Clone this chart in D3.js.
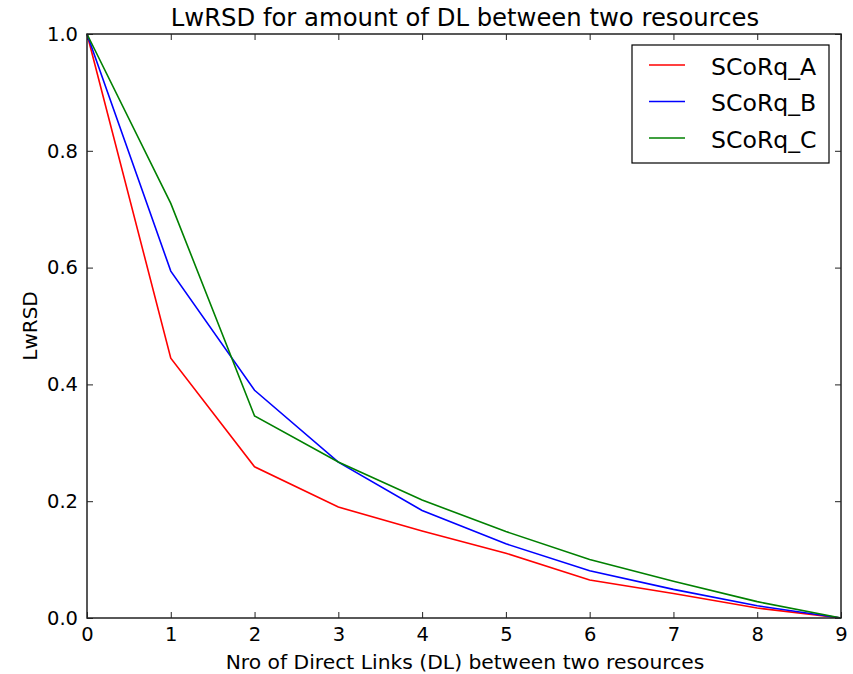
<!DOCTYPE html>
<html><head><meta charset="utf-8">
<script src="https://cdn.jsdelivr.net/npm/d3@7"></script>
<style>
body{margin:0;background:#fff;}
svg{display:block;font-family:"DejaVu Sans",sans-serif;}
</style></head>
<body><svg id="c" width="853" height="674"></svg>
<script>
const xValues = [0,1,2,3,4,5,6,7,8,9];
const seriesNames = ["SCoRq_A","SCoRq_B","SCoRq_C"];
const seriesA = [1.0,0.445,0.259,0.19,0.149,0.111,0.065,0.042,0.017,0.0];
const seriesB = [1.0,0.594,0.39,0.267,0.184,0.127,0.081,0.049,0.021,0.0];
const seriesC = [1.0,0.71,0.346,0.267,0.202,0.148,0.1,0.063,0.028,0.0];
const seriesColors = ["#ff0000","#0000ff","#008000"];
const xTicks = [0,1,2,3,4,5,6,7,8,9];
const yTicks = [0,0.2,0.4,0.6,0.8,1.0];

const svg = d3.select("#c");
const m = {l:87, r:841, t:34, b:618};
const x = d3.scaleLinear().domain([0,9]).range([m.l,m.r]);
const y = d3.scaleLinear().domain([0,1]).range([m.b,m.t]);

svg.append("rect").attr("width",853).attr("height",674).attr("fill","#fff");

const tickLen = 6;
const gx = svg.append("g").attr("transform",`translate(0,${m.b})`)
  .call(d3.axisBottom(x).tickValues(xTicks).tickFormat(d3.format("d")).tickSizeInner(-tickLen).tickSizeOuter(0).tickPadding(9));
const gxt = svg.append("g").attr("transform",`translate(0,${m.t})`)
  .call(d3.axisTop(x).tickValues(xTicks).tickFormat("").tickSizeInner(-tickLen).tickSizeOuter(0));
const gy = svg.append("g").attr("transform",`translate(${m.l},0)`)
  .call(d3.axisLeft(y).tickValues(yTicks).tickFormat(d3.format(".1f")).tickSizeInner(-tickLen).tickSizeOuter(0).tickPadding(9));
const gyr = svg.append("g").attr("transform",`translate(${m.r},0)`)
  .call(d3.axisRight(y).tickValues(yTicks).tickFormat("").tickSizeInner(-tickLen).tickSizeOuter(0));
[gx,gxt,gy,gyr].forEach(g=>{
  g.select(".domain").remove();
  g.selectAll(".tick line").attr("stroke","#222").attr("stroke-width",1);
  g.selectAll(".tick text").attr("font-size",19.5).attr("fill","#000").attr("font-family","DejaVu Sans");
});

const data = [seriesA,seriesB,seriesC];
const line = d3.line().x((d,i)=>x(xValues[i])).y(d=>y(d));
data.forEach((s,k)=>{
  svg.append("path").datum(s).attr("d",line).attr("fill","none")
    .attr("stroke",seriesColors[k]).attr("stroke-width",1.6);
});

svg.append("rect").attr("x",m.l).attr("y",m.t).attr("width",m.r-m.l).attr("height",m.b-m.t)
  .attr("fill","none").attr("stroke","#222").attr("stroke-width",1.5);

svg.append("text").attr("x",(m.l+m.r)/2+1).attr("y",26).attr("text-anchor","middle")
  .attr("font-size",24.3).text("LwRSD for amount of DL between two resources");
svg.append("text").attr("x",(m.l+m.r)/2+1).attr("y",669).attr("text-anchor","middle")
  .attr("font-size",20.3).text("Nro of Direct Links (DL) between two resources");
svg.append("text").attr("transform",`translate(37,${(m.t+m.b)/2}) rotate(-90)`).attr("text-anchor","middle")
  .attr("font-size",20).text("LwRSD");

const lg = svg.append("g");
lg.append("rect").attr("x",632).attr("y",45).attr("width",197).attr("height",118)
  .attr("fill","#fff").attr("stroke","#000").attr("stroke-width",1.2);
seriesNames.forEach((n,k)=>{
  const yy = 65 + k*36.5;
  lg.append("line").attr("x1",649).attr("x2",685).attr("y1",yy).attr("y2",yy)
    .attr("stroke",seriesColors[k]).attr("stroke-width",1.6);
  lg.append("text").attr("x",711).attr("y",yy+9.5).attr("font-size",23.6).text(n);
});
</script></body></html>
